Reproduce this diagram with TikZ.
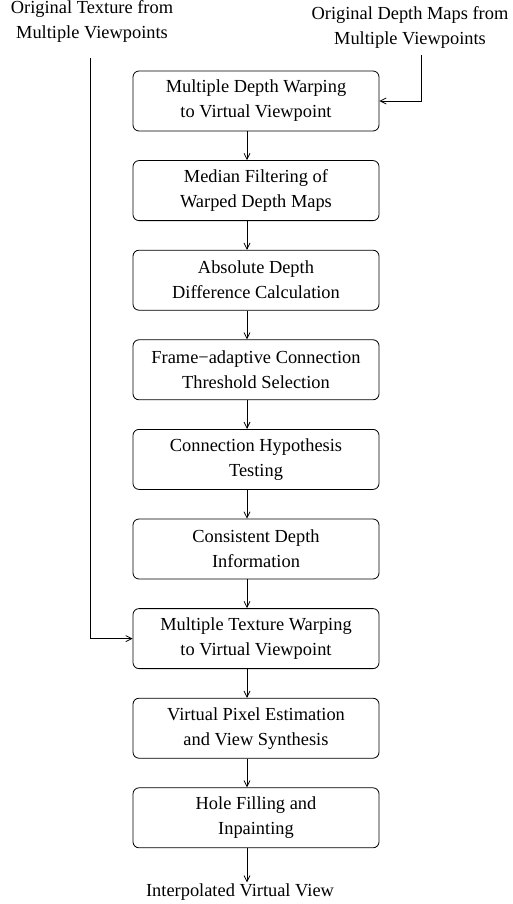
\documentclass[tikz,border=0pt]{standalone}
\usepackage{fontspec}
\setmainfont{Liberation Serif}
\usetikzlibrary{arrows.meta}
\begin{document}
\begin{tikzpicture}[x=1pt,y=-1pt,
  stepbox/.style={draw, rounded corners=6pt, minimum width=246pt, minimum height=60pt,
    align=center, inner sep=0pt, line width=0.8pt, font=\fontsize{18.4}{25}\selectfont},
  plain/.style={align=center, inner sep=1pt, font=\fontsize{18.4}{25}\selectfont},
  conn/.style={line width=0.8pt, -{Straight Barb[length=6pt,width=6pt]}}]
\useasboundingbox (0,0) rectangle (513,904);
\coordinate (ax) at (247,0);
\node[plain] (inT) at (92,21) {Original Texture from\\Multiple Viewpoints};
\node[plain] (inD) at (410,27) {Original Depth Maps from\\Multiple Viewpoints};
\node[stepbox] (b1) at (256,101) {Multiple Depth Warping\\to Virtual Viewpoint};
\node[stepbox] (b2) at (256,190.6) {Median Filtering of\\Warped Depth Maps};
\node[stepbox] (b3) at (256,280.2) {Absolute Depth\\Difference Calculation};
\node[stepbox] (b4) at (256,369.8) {Frame−adaptive Connection\\Threshold Selection};
\node[stepbox] (b5) at (256,459.4) {Connection Hypothesis\\Testing};
\node[stepbox] (b6) at (256,549) {Consistent Depth\\Information};
\node[stepbox] (b7) at (256,638.6) {Multiple Texture Warping\\to Virtual Viewpoint};
\node[stepbox] (b8) at (256,728.2) {Virtual Pixel Estimation\\and View Synthesis};
\node[stepbox] (b9) at (256,817.8) {Hole Filling and\\Inpainting};
\node[plain] (out) at (240,892) {Interpolated Virtual View};
\coordinate (tl) at (90,58);
\coordinate (tr) at (421,55);
\draw[conn] (tl) |- (b7.west);
\draw[conn] (tr) |- (b1.east);
\foreach \a/\b in {b1/b2,b2/b3,b3/b4,b4/b5,b5/b6,b6/b7,b7/b8,b8/b9,b9/out}
  \draw[conn] (\a.south -| ax) -- (\b.north -| ax);
\end{tikzpicture}
\end{document}
